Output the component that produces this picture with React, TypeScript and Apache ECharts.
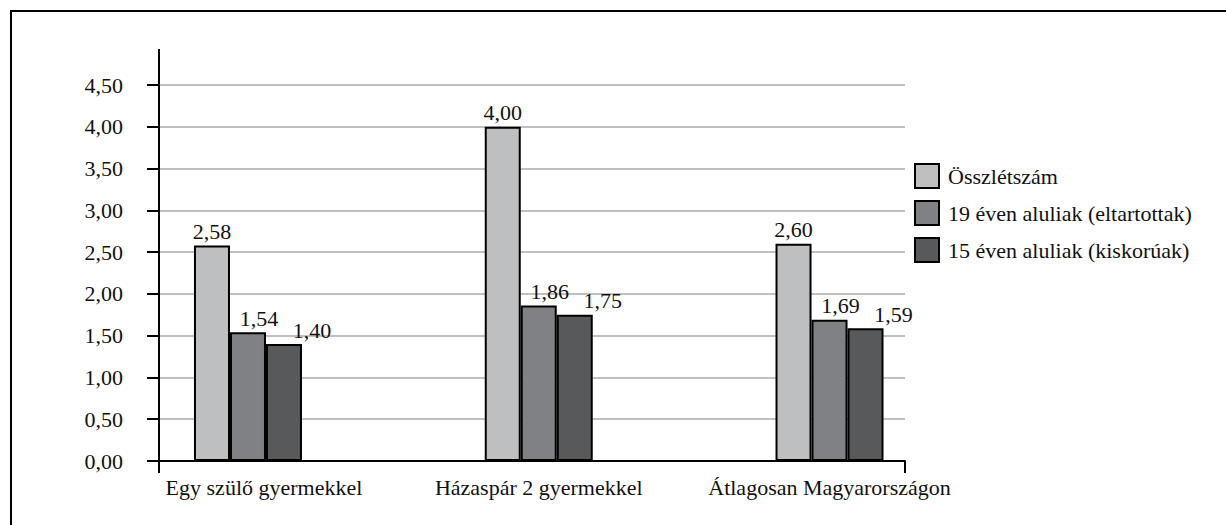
import React, { useEffect, useRef } from "react";
import * as echarts from "echarts";

const categories = ["Egy szülő gyermekkel", "Házaspár 2 gyermekkel", "Átlagosan Magyarországon"];
const seriesNames = ["Összlétszám", "19 éven aluliak (eltartottak)", "15 éven aluliak (kiskorúak)"];
const osszletszam = [2.58, 4.0, 2.6];
const eltartottak = [1.54, 1.86, 1.69];
const kiskoruak = [1.4, 1.75, 1.59];
const yMin = 0;
const yMax = 4.5;
const yStep = 0.5;

const seriesValues = [osszletszam, eltartottak, kiskoruak];
const seriesColors = ["#bebfc1", "#808184", "#58595b"];
const labelOffsets = [[0, 0], [11, 0], [28, 0]];

const FONT = "'Liberation Serif', 'Times New Roman', serif";
const fmt = (v: number) => v.toFixed(2).replace(".", ",");

export default function App() {
  const ref = useRef<HTMLDivElement>(null);
  useEffect(() => {
    if (!ref.current) return;
    const chart = echarts.init(ref.current, null, { renderer: "svg" });
    const gridTop = 85;
    const gridBottom = 64;
    chart.setOption({
      animation: false,
      backgroundColor: "#ffffff",
      textStyle: { fontFamily: FONT, color: "#111" },
      grid: [
        { left: 159, width: 746, top: gridTop, bottom: gridBottom },
        { left: 102.6, width: 872.3, top: gridTop, bottom: gridBottom },
      ],
      xAxis: [
        {
          gridIndex: 0,
          type: "category",
          data: [""],
          boundaryGap: true,
          axisLine: { show: true, lineStyle: { color: "#000", width: 2 } },
          axisTick: { show: true, length: 12, lineStyle: { color: "#000", width: 2 } },
          axisLabel: { show: false },
          splitLine: { show: false },
        },
        {
          gridIndex: 1,
          type: "category",
          data: categories,
          axisLine: { show: false },
          axisTick: { show: false },
          axisLabel: {
            margin: 15,
            fontSize: 22,
            fontFamily: FONT,
            color: "#111",
            interval: 0,
            formatter: (v: string, i: number) => (i === 0 ? "{a|" + v + "}" : v),
            rich: { a: { fontSize: 22, fontFamily: FONT, color: "#111", padding: [0, 0, 0, 32] } },
          },
        },
      ],
      yAxis: [
        {
          gridIndex: 0,
          type: "value",
          min: yMin,
          max: yMax,
          interval: yStep,
          axisLine: { show: true, lineStyle: { color: "#000", width: 2 } },
          axisTick: { show: true, length: 12, lineStyle: { color: "#000", width: 2 } },
          axisLabel: {
            margin: 36,
            fontSize: 22,
            fontFamily: FONT,
            color: "#111",
            formatter: (v: number) => fmt(v),
          },
          splitLine: { show: true, lineStyle: { color: "#c0c0c0", width: 2 } },
        },
        {
          gridIndex: 1,
          type: "value",
          min: yMin,
          max: yMax,
          interval: yStep,
          show: false,
          splitLine: { show: false },
        },
      ],
      legend: {
        data: seriesNames,
        orient: "vertical",
        left: 914,
        top: 163,
        padding: 0,
        itemWidth: 24,
        itemHeight: 24,
        itemGap: 11,
        icon: "rect",
        itemStyle: { borderColor: "#000", borderWidth: 2 },
        textStyle: { fontSize: 22, fontFamily: FONT, color: "#111", padding: [0, 0, 0, 4] },
      },
      graphic: [
        { type: "line", shape: { x1: 10, y1: 11, x2: 1226, y2: 11 }, style: { stroke: "#000", lineWidth: 2 } },
        { type: "line", shape: { x1: 11, y1: 10, x2: 11, y2: 525 }, style: { stroke: "#000", lineWidth: 2 } },
        { type: "line", shape: { x1: 159, y1: 49, x2: 159, y2: 86 }, style: { stroke: "#000", lineWidth: 2 } },
      ],
      series: seriesNames.map((name, i) => ({
        name,
        type: "bar",
        xAxisIndex: 1,
        yAxisIndex: 1,
        data: seriesValues[i],
        barWidth: 36,
        barGap: "0%",
        itemStyle: { color: seriesColors[i], borderColor: "#000", borderWidth: 2 },
        label: {
          show: true,
          position: "top",
          distance: 3,
          offset: labelOffsets[i],
          fontSize: 22,
          fontFamily: FONT,
          color: "#111",
          formatter: (p: any) => fmt(p.value),
        },
      })),
    });
    return () => chart.dispose();
  }, []);
  return (
    <div
      ref={ref}
      style={{ position: "fixed", left: 0, top: 0, width: 1226, height: 525, background: "#fff" }}
    />
  );
}
